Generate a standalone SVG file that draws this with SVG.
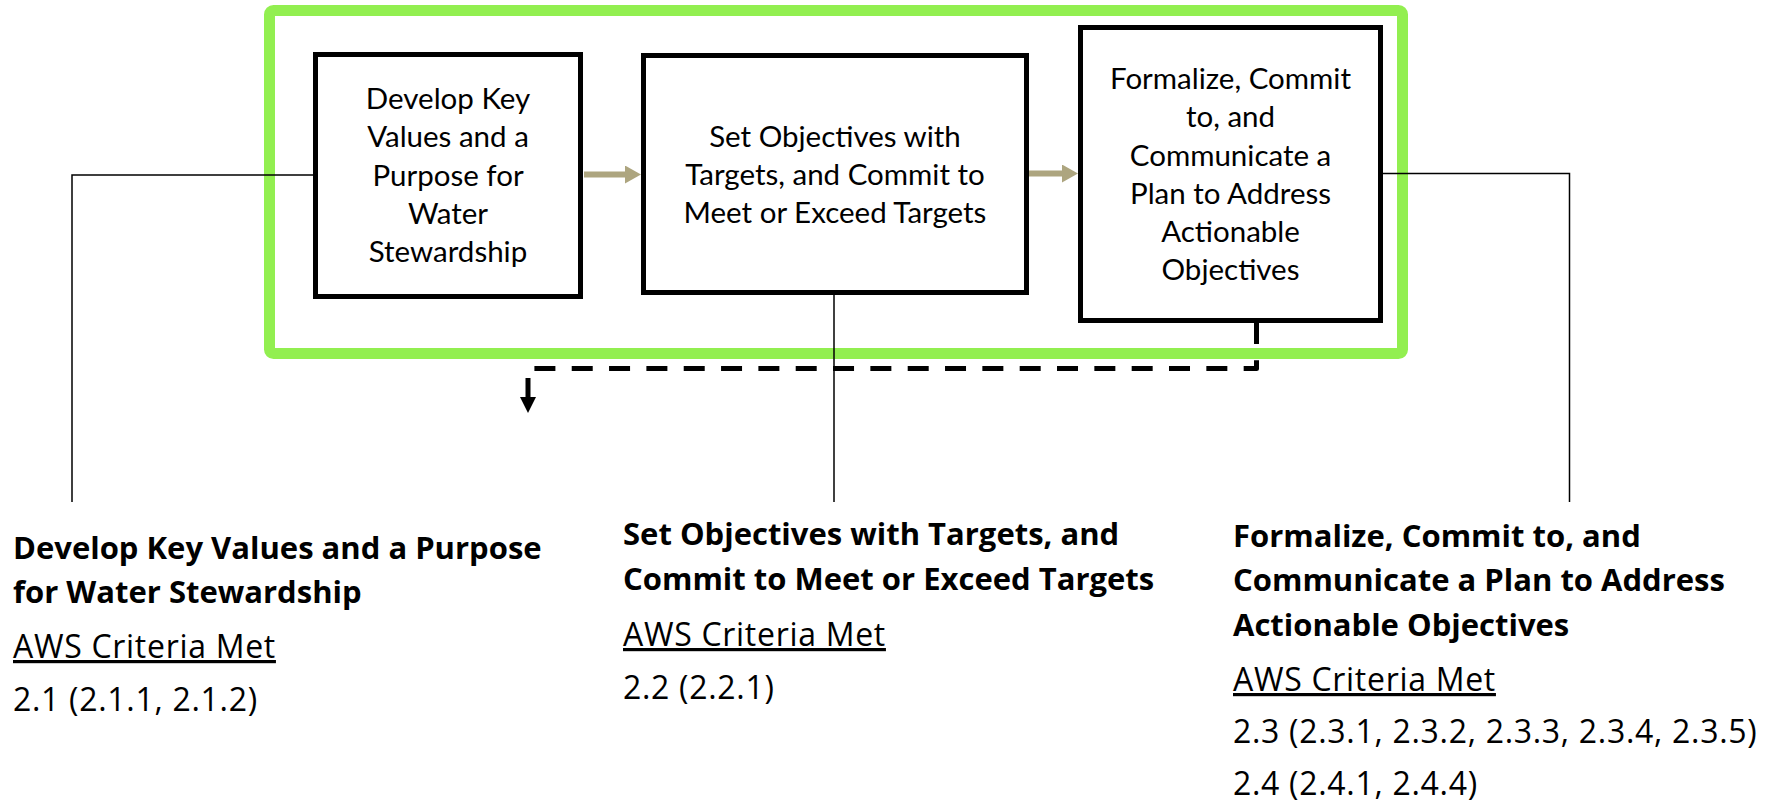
<svg xmlns="http://www.w3.org/2000/svg" width="1769" height="803" viewBox="0 0 1769 803">
<defs>
<style>
.frame{fill:none;stroke:#92EF50;stroke-width:11;}
.box{fill:#fff;stroke:#000;stroke-width:5;}
.bt{font-family:Lato,"Open Sans","Liberation Sans",sans-serif;font-size:29.5px;fill:#000;text-anchor:middle;}
.hd{font-family:"Open Sans",Lato,"Liberation Sans",sans-serif;font-size:31px;font-weight:bold;fill:#000;}
.rg{font-family:"Open Sans",Lato,"Liberation Sans",sans-serif;font-size:32px;letter-spacing:0.7px;fill:#000;}
.ul{text-decoration:underline;}
.thin{fill:none;stroke:#000;stroke-width:1.5;}
.flow{fill:none;stroke:#ADA57F;stroke-width:6;}
.dash{fill:none;stroke:#000;stroke-width:5;stroke-dasharray:21 16.33;stroke-linejoin:round;}
.down{fill:none;stroke:#000;stroke-width:5;}
</style>
<marker id="tanHead" markerUnits="userSpaceOnUse" markerWidth="16" markerHeight="18" viewBox="0 0 16 18" refX="0" refY="9" orient="auto">
<path d="M0,0 L16,9 L0,18 Z" fill="#ADA57F"/>
</marker>
<marker id="blackHead" markerUnits="userSpaceOnUse" markerWidth="16" markerHeight="16" viewBox="0 0 16 16" refX="0" refY="8" orient="auto">
<path d="M0,0 L16,8 L0,16 Z" fill="#000"/>
</marker>
</defs>
<rect width="1769" height="803" fill="#fff"/>
<rect id="frame" class="frame" x="269.5" y="10.5" width="1133" height="343" rx="4"/>
<g id="connectors">
<path class="thin" d="M313,175 H72 V502"/>
<path class="thin" d="M834,295 V502"/>
<path class="thin" d="M1383,173.5 H1569.5 V502"/>
<path class="flow" d="M584,174.5 H625" marker-end="url(#tanHead)"/>
<path class="flow" d="M1029,173.5 H1062" marker-end="url(#tanHead)"/>
<path class="dash" d="M1256.5,323 V368.5 H533"/>
<path class="down" d="M528,378 V397" marker-end="url(#blackHead)"/>
</g>
<g id="node1">
<rect class="box" x="315.5" y="54.5" width="265" height="242"/>
<text class="bt" x="448" y="109">Develop Key</text>
<text class="bt" x="448" y="147">Values and a</text>
<text class="bt" x="448" y="186">Purpose for</text>
<text class="bt" x="448" y="224">Water</text>
<text class="bt" x="448" y="262">Stewardship</text>
</g>
<g id="node2">
<rect class="box" x="643.5" y="55.5" width="383" height="237"/>
<text class="bt" x="835" y="147">Set Objectives with</text>
<text class="bt" x="835" y="185">Targets, and Commit to</text>
<text class="bt" x="835" y="223">Meet or Exceed Targets</text>
</g>
<g id="node3">
<rect class="box" x="1080.5" y="27.5" width="300" height="293"/>
<text class="bt" x="1230.5" y="89">Formalize, Commit</text>
<text class="bt" x="1230.5" y="127">to, and</text>
<text class="bt" x="1230.5" y="166">Communicate a</text>
<text class="bt" x="1230.5" y="204">Plan to Address</text>
<text class="bt" x="1230.5" y="242">Actionable</text>
<text class="bt" x="1230.5" y="280">Objectives</text>
</g>
<g id="label1">
<text class="hd" x="13" y="559">Develop Key Values and a Purpose</text>
<text class="hd" x="13" y="603">for Water Stewardship</text>
<text class="rg ul" x="13" y="658">AWS Criteria Met</text>
<text class="rg" x="13" y="711">2.1 (2.1.1, 2.1.2)</text>
</g>
<g id="label2">
<text class="hd" x="623" y="545">Set Objectives with Targets, and</text>
<text class="hd" x="623" y="590">Commit to Meet or Exceed Targets</text>
<text class="rg ul" x="623" y="646">AWS Criteria Met</text>
<text class="rg" x="623" y="699">2.2 (2.2.1)</text>
</g>
<g id="label3">
<text class="hd" x="1233" y="547">Formalize, Commit to, and</text>
<text class="hd" x="1233" y="591">Communicate a Plan to Address</text>
<text class="hd" x="1233" y="636">Actionable Objectives</text>
<text class="rg ul" x="1233" y="691">AWS Criteria Met</text>
<text class="rg" x="1233" y="743">2.3 (2.3.1, 2.3.2, 2.3.3, 2.3.4, 2.3.5)</text>
<text class="rg" x="1233" y="795">2.4 (2.4.1, 2.4.4)</text>
</g>
</svg>
